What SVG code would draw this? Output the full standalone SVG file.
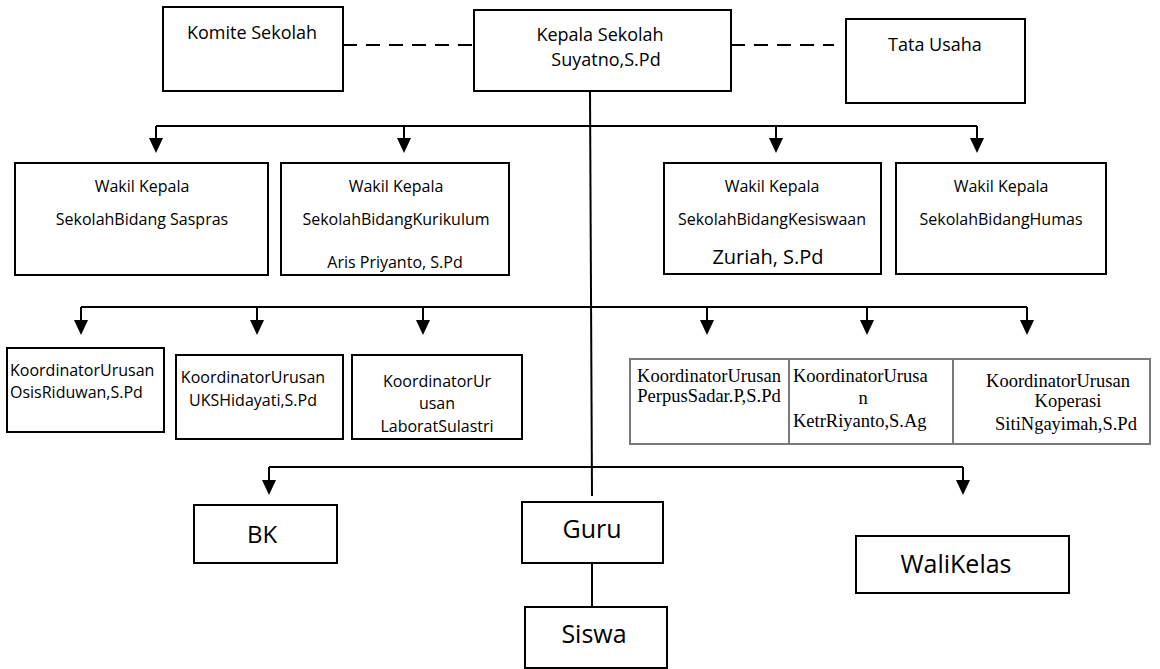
<svg xmlns="http://www.w3.org/2000/svg" width="1160" height="669" viewBox="0 0 1160 669">
<style>
.box{fill:#fff;stroke:#000;stroke-width:2}
.cell{fill:#fff;stroke:#7a7a7a;stroke-width:2}
.ln{fill:none;stroke:#000;stroke-width:2}
.dash{fill:none;stroke:#000;stroke-width:2;stroke-dasharray:14 9}
.t{font-family:"Open Sans","Liberation Sans",sans-serif;fill:#000}
.s18{font-size:18px}
.s16{font-size:16px}
.s20{font-size:20px}
.s24{font-size:24px}
.s25{font-size:25px}
.tr{font-family:"Liberation Serif","Times New Roman",serif;font-size:18.5px;fill:#000}
.c{text-anchor:middle}
</style>
<defs>
<marker id="ah" markerUnits="userSpaceOnUse" markerWidth="16" markerHeight="16" refX="11" refY="7" orient="auto">
<path d="M0,0 L15,7 L0,14 z" fill="#000"/>
</marker>
</defs>
<rect width="1160" height="669" fill="#fff"/>

<g id="connectors">
<line class="dash" x1="343" y1="45" x2="474" y2="45"/>
<line class="dash" x1="731" y1="45" x2="834" y2="45"/>
<line class="ln" x1="590" y1="91" x2="592" y2="496"/>
<line class="ln" x1="156" y1="126" x2="977" y2="126"/>
<line class="ln" x1="156" y1="126" x2="156" y2="149" marker-end="url(#ah)"/>
<line class="ln" x1="404" y1="126" x2="404" y2="149" marker-end="url(#ah)"/>
<line class="ln" x1="776" y1="126" x2="776" y2="149" marker-end="url(#ah)"/>
<line class="ln" x1="977" y1="126" x2="977" y2="149" marker-end="url(#ah)"/>
<line class="ln" x1="81" y1="307" x2="1027" y2="307"/>
<line class="ln" x1="81" y1="307" x2="81" y2="331" marker-end="url(#ah)"/>
<line class="ln" x1="257" y1="307" x2="257" y2="331" marker-end="url(#ah)"/>
<line class="ln" x1="423" y1="307" x2="423" y2="331" marker-end="url(#ah)"/>
<line class="ln" x1="707" y1="307" x2="707" y2="331" marker-end="url(#ah)"/>
<line class="ln" x1="867" y1="307" x2="867" y2="331" marker-end="url(#ah)"/>
<line class="ln" x1="1027" y1="307" x2="1027" y2="331" marker-end="url(#ah)"/>
<line class="ln" x1="269" y1="467" x2="963" y2="467"/>
<line class="ln" x1="269" y1="467" x2="269" y2="491" marker-end="url(#ah)"/>
<line class="ln" x1="963" y1="467" x2="963" y2="491" marker-end="url(#ah)"/>
<line class="ln" x1="592" y1="563" x2="592" y2="607"/>
</g>

<g id="komite">
<rect class="box" x="163" y="7" width="180" height="84"/>
<text class="t s18 c" x="252" y="39">Komite Sekolah</text>
</g>
<g id="kepala">
<rect class="box" x="474" y="10" width="257" height="81"/>
<text class="t s18 c" x="600" y="41">Kepala Sekolah</text>
<text class="t s18 c" x="606" y="66">Suyatno,S.Pd</text>
</g>
<g id="tata-usaha">
<rect class="box" x="846" y="19" width="179" height="84"/>
<text class="t s18 c" x="935" y="51">Tata Usaha</text>
</g>

<g id="wakil-saspras">
<rect class="box" x="15" y="163" width="253" height="112"/>
<text class="t s16 c" x="142" y="192">Wakil Kepala</text>
<text class="t s16 c" x="142" y="225">SekolahBidang Saspras</text>
</g>
<g id="wakil-kurikulum">
<rect class="box" x="281" y="163" width="228" height="112"/>
<text class="t s16 c" x="396" y="192">Wakil Kepala</text>
<text class="t s16 c" x="396" y="225">SekolahBidangKurikulum</text>
<text class="t s16 c" x="395" y="268">Aris Priyanto, S.Pd</text>
</g>
<g id="wakil-kesiswaan">
<rect class="box" x="664" y="163" width="217" height="111"/>
<text class="t s16 c" x="772" y="192">Wakil Kepala</text>
<text class="t s16 c" x="772" y="225">SekolahBidangKesiswaan</text>
<text class="t s20 c" x="768" y="264">Zuriah, S.Pd</text>
</g>
<g id="wakil-humas">
<rect class="box" x="896" y="163" width="210" height="111"/>
<text class="t s16 c" x="1001" y="192">Wakil Kepala</text>
<text class="t s16 c" x="1001" y="225">SekolahBidangHumas</text>
</g>

<g id="koor-osis">
<rect class="box" x="7" y="348" width="157" height="84"/>
<text class="t s16" x="10" y="376">KoordinatorUrusan</text>
<text class="t s16" x="10" y="398">OsisRiduwan,S.Pd</text>
</g>
<g id="koor-uks">
<rect class="box" x="176" y="355" width="167" height="84"/>
<text class="t s16 c" x="253" y="383">KoordinatorUrusan</text>
<text class="t s16 c" x="253" y="406">UKSHidayati,S.Pd</text>
</g>
<g id="koor-laborat">
<rect class="box" x="352" y="355" width="170" height="84"/>
<text class="t s16 c" x="437" y="387">KoordinatorUr</text>
<text class="t s16 c" x="437" y="409">usan</text>
<text class="t s16 c" x="437" y="432">LaboratSulastri</text>
</g>
<g id="koor-perpus">
<rect class="cell" x="630" y="359" width="159" height="85"/>
<text class="tr c" x="709" y="382">KoordinatorUrusan</text>
<text class="tr c" x="709" y="402">PerpusSadar.P,S.Pd</text>
</g>
<g id="koor-ketr">
<rect class="cell" x="789" y="359" width="164" height="85"/>
<text class="tr" x="793" y="382">KoordinatorUrusa</text>
<text class="tr c" x="863" y="404">n</text>
<text class="tr" x="793" y="427">KetrRiyanto,S.Ag</text>
</g>
<g id="koor-koperasi">
<rect class="cell" x="953" y="359" width="197" height="85"/>
<text class="tr c" x="1058" y="387">KoordinatorUrusan</text>
<text class="tr c" x="1068" y="407">Koperasi</text>
<text class="tr c" x="1066" y="430">SitiNgayimah,S.Pd</text>
</g>

<g id="bk">
<rect class="box" x="194" y="505" width="143" height="58"/>
<text class="t s24 c" x="262" y="543">BK</text>
</g>
<g id="guru">
<rect class="box" x="522" y="502" width="141" height="61"/>
<text class="t s25 c" x="592" y="538">Guru</text>
</g>
<g id="siswa">
<rect class="box" x="525" y="607" width="142" height="61"/>
<text class="t s25 c" x="594" y="643">Siswa</text>
</g>
<g id="wali-kelas">
<rect class="box" x="856" y="536" width="213" height="57"/>
<text class="t s25 c" x="956" y="573">WaliKelas</text>
</g>
</svg>
